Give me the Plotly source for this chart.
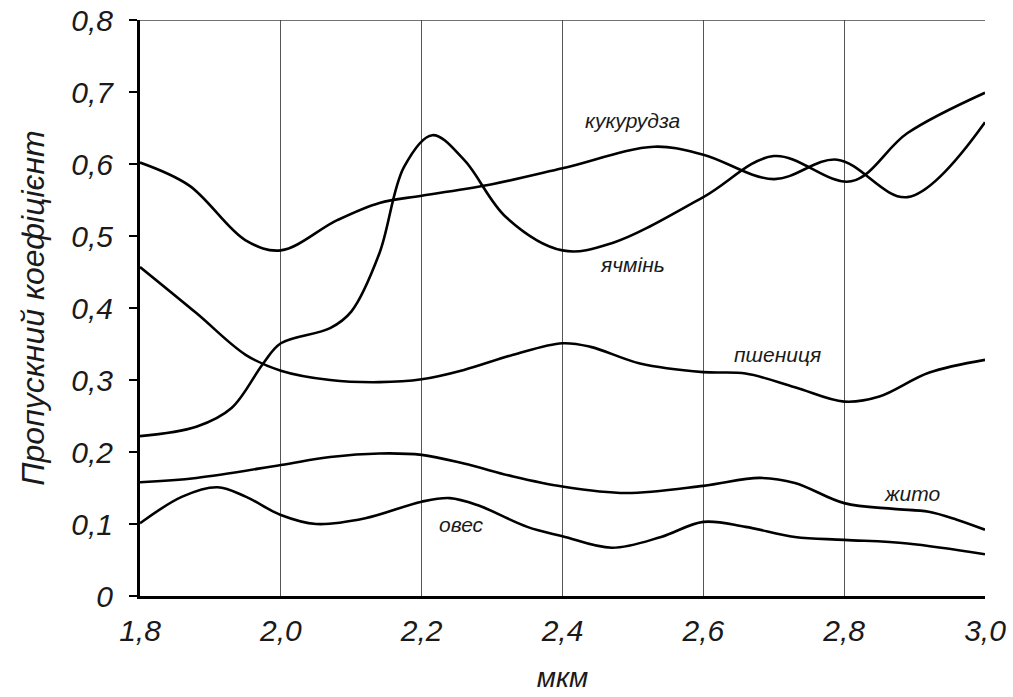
import plotly.graph_objects as go

# ---- data ----
corn_x = [1.8, 1.87, 1.95, 2.0, 2.08, 2.14, 2.2, 2.3, 2.4, 2.53, 2.6, 2.7, 2.79, 2.89, 3.0]
corn_y = [0.602, 0.57, 0.494, 0.48, 0.522, 0.546, 0.556, 0.572, 0.594, 0.624, 0.613, 0.579, 0.606, 0.554, 0.658]

barley_x = [1.8, 1.88, 1.93, 1.975, 2.0, 2.07, 2.1, 2.14, 2.175, 2.215, 2.26, 2.32, 2.4, 2.47, 2.6, 2.7, 2.81, 2.89, 3.0]
barley_y = [0.222, 0.235, 0.261, 0.323, 0.351, 0.372, 0.395, 0.476, 0.596, 0.64, 0.606, 0.526, 0.48, 0.49, 0.554, 0.611, 0.576, 0.643, 0.699]

wheat_x = [1.8, 1.88, 1.95, 2.0, 2.07, 2.14, 2.2, 2.26, 2.33, 2.4, 2.44, 2.51, 2.6, 2.66, 2.73, 2.8, 2.85, 2.92, 3.0]
wheat_y = [0.457, 0.393, 0.335, 0.313, 0.3, 0.297, 0.301, 0.314, 0.335, 0.351, 0.346, 0.323, 0.311, 0.309, 0.29, 0.27, 0.277, 0.31, 0.328]

rye_x = [1.8, 1.88, 2.0, 2.07, 2.14, 2.2, 2.26, 2.33, 2.4, 2.49, 2.6, 2.68, 2.73, 2.8, 2.87, 2.92, 2.96, 3.0]
rye_y = [0.158, 0.164, 0.182, 0.193, 0.198, 0.196, 0.184, 0.166, 0.152, 0.143, 0.153, 0.164, 0.157, 0.129, 0.121, 0.117, 0.106, 0.092]

oats_x = [1.8, 1.86, 1.91, 1.95, 2.0, 2.05, 2.12, 2.2, 2.24, 2.28, 2.35, 2.4, 2.47, 2.54, 2.6, 2.66, 2.73, 2.8, 2.89, 3.0]
oats_y = [0.101, 0.138, 0.151, 0.138, 0.1125, 0.1, 0.108, 0.131, 0.136, 0.126, 0.096, 0.083, 0.067, 0.082, 0.103, 0.096, 0.082, 0.078, 0.073, 0.058]

x_ticks = [1.8, 2.0, 2.2, 2.4, 2.6, 2.8, 3.0]
x_tick_text = ["1,8", "2,0", "2,2", "2,4", "2,6", "2,8", "3,0"]
y_ticks = [0, 0.1, 0.2, 0.3, 0.4, 0.5, 0.6, 0.7, 0.8]
y_tick_text = ["0", "0,1", "0,2", "0,3", "0,4", "0,5", "0,6", "0,7", "0,8"]

labels = ["кукурудза", "ячмінь", "пшениця", "жито", "овес"]
label_x = [2.499, 2.499, 2.705, 2.896, 2.257]
label_y = [0.661, 0.461, 0.335, 0.142, 0.10]

x_title = "мкм"
y_title = "Пропускний коефіцієнт"

FONT = "Liberation Sans, Arial, sans-serif"
INK = "#1a1a1a"

fig = go.Figure()
for xs, ys in [(corn_x, corn_y), (barley_x, barley_y), (wheat_x, wheat_y), (rye_x, rye_y), (oats_x, oats_y)]:
    fig.add_trace(go.Scatter(x=xs, y=ys, mode="lines",
                             line=dict(color="black", width=2.6, shape="spline", smoothing=1.0),
                             showlegend=False, hoverinfo="skip"))

for t, lx, ly in zip(labels, label_x, label_y):
    fig.add_annotation(x=lx, y=ly, text=t, showarrow=False,
                       font=dict(family=FONT, size=21, color=INK, style="italic"))

fig.update_layout(
    width=1013, height=697,
    margin=dict(l=140, r=28, t=20, b=101),
    plot_bgcolor="white", paper_bgcolor="white",
    font=dict(family=FONT, color=INK, style="italic"),
    xaxis=dict(range=[1.8, 3.0], tickvals=x_ticks, ticktext=x_tick_text,
               showgrid=True, gridcolor="#555555", gridwidth=1.2,
               showline=True, linecolor="black", linewidth=3,
               ticks="", ticklabelstandoff=6, automargin=False,
               ticklabeloverflow="allow",
               tickfont=dict(family=FONT, size=30, color=INK, style="italic"),
               title=dict(text=x_title, standoff=22,
                          font=dict(family=FONT, size=28, color=INK, style="italic")),
               zeroline=False),
    yaxis=dict(range=[0, 0.8], tickvals=y_ticks, ticktext=y_tick_text,
               showgrid=False, showline=True, linecolor="black", linewidth=3,
               ticks="outside", ticklen=8, tickwidth=2, tickcolor="black",
               ticklabelstandoff=10, automargin=False,
               ticklabeloverflow="allow",
               tickfont=dict(family=FONT, size=30, color=INK, style="italic"),
               title=dict(text=y_title, standoff=18,
                          font=dict(family=FONT, size=32, color=INK, style="italic")),
               zeroline=False),
)
# thin top border at 0.8
fig.add_shape(type="line", xref="paper", yref="y", x0=0, x1=1, y0=0.8, y1=0.8,
              line=dict(color="#444444", width=1.5))

# remove the default page margin so the figure fills the window exactly
fig.write_html("out.html", config={"displayModeBar": False},
               post_script="document.body.style.margin='0';")
